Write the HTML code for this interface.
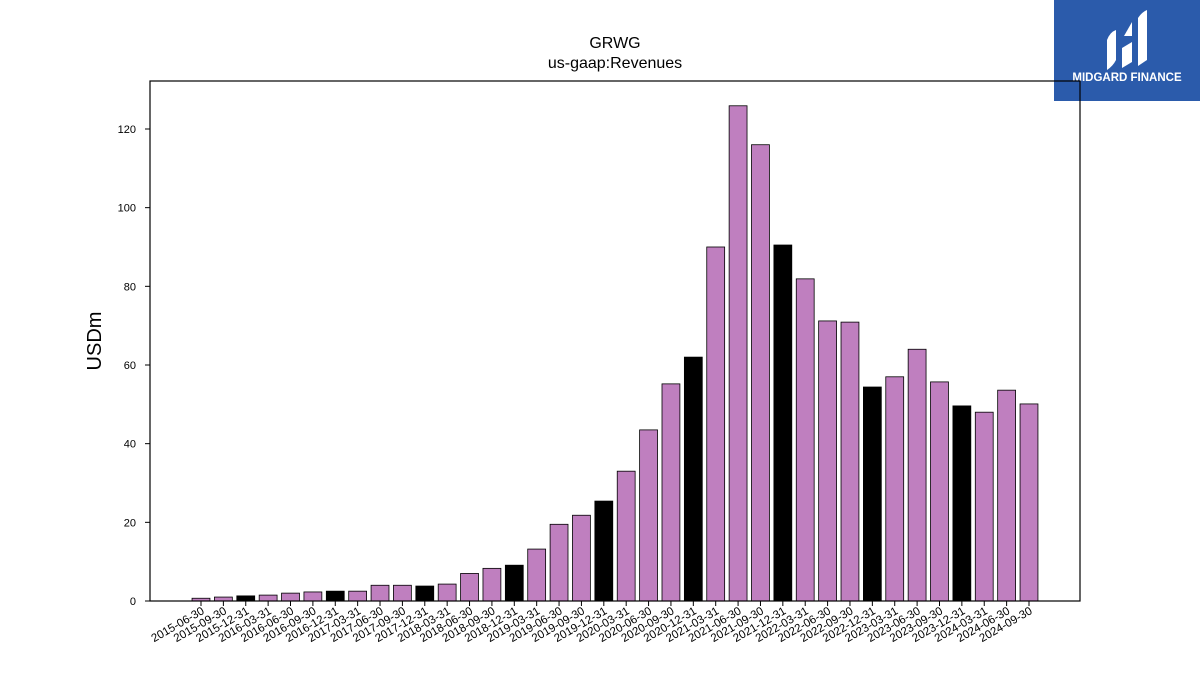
<!DOCTYPE html>
<html><head><meta charset="utf-8"><style>
body{margin:0;background:#fff;font-family:"Liberation Sans","DejaVu Sans",sans-serif}
svg{display:block}
</style></head><body>
<svg id="chart" width="1200" height="675">
<text x="615" y="48" text-anchor="middle" font-size="16">GRWG</text>
<text x="615" y="68" text-anchor="middle" font-size="16">us-gaap:Revenues</text>
<text transform="translate(101,341) rotate(-90)" text-anchor="middle" font-size="20">USDm</text>
<g id="logo">
<rect x="1054" y="0" width="146" height="101" fill="#2b5bab"/>
<path d="M1107 70 L1107 40 Q1110 32 1116 30 L1116 60 Q1113 66 1107 70Z" fill="#fff"/>
<path d="M1122 68 L1122 48 L1132 42 L1132 62Z" fill="#fff"/>
<path d="M1124 36 L1132 22 L1132 36Z" fill="#fff"/>
<path d="M1138 66 L1138 18 Q1142 12 1147 10 L1147 60Z" fill="#fff"/>
<text x="1127" y="81" text-anchor="middle" font-size="11.5" font-weight="bold" fill="#fff">MIDGARD FINANCE</text>
</g>
<g id="bars"></g>
<g id="axes"></g>
</svg>
<script>
const categories=["2015-06-30","2015-09-30","2015-12-31","2016-03-31","2016-06-30","2016-09-30","2016-12-31","2017-03-31","2017-06-30","2017-09-30","2017-12-31","2018-03-31","2018-06-30","2018-09-30","2018-12-31","2019-03-31","2019-06-30","2019-09-30","2019-12-31","2020-03-31","2020-06-30","2020-09-30","2020-12-31","2021-03-31","2021-06-30","2021-09-30","2021-12-31","2022-03-31","2022-06-30","2022-09-30","2022-12-31","2023-03-31","2023-06-30","2023-09-30","2023-12-31","2024-03-31","2024-06-30","2024-09-30"];
const revenues=[0.7,1.0,1.3,1.5,2.0,2.3,2.5,2.5,4.0,4.0,3.8,4.3,7.0,8.3,9.1,13.2,19.5,21.8,25.4,33.0,43.5,55.2,62.0,90.0,125.9,116.0,90.5,81.9,71.2,70.9,54.4,57.0,64.0,55.7,49.6,48.0,53.6,50.1];
const yTicks=[0,20,40,60,80,100,120];
const NS="http://www.w3.org/2000/svg";
const L=150,R=1080,T=81,B=601;
const yMax=132.2;
const y=v=>B-v/yMax*(B-T);
const step=(1029-201)/(categories.length-1);
const x=i=>201+i*step;
const bw=step*0.8;
function mk(tag,attrs,parent){const e=document.createElementNS(NS,tag);for(const k in attrs)e.setAttribute(k,attrs[k]);parent.appendChild(e);return e;}
const bars=document.getElementById('bars'),axes=document.getElementById('axes');
revenues.forEach((v,i)=>{
 const annual=categories[i].endsWith("12-31");
 const r=mk('rect',{x:x(i)-bw/2,y:y(v),width:bw,height:B-y(v),fill:annual?'#000':'#bf7fbf',stroke:'#000','stroke-width':0.8},bars);
 
 
});
const frame=mk('rect',{x:L,y:T,width:R-L,height:B-T,fill:'none',stroke:'#000','stroke-width':1.2},axes);


yTicks.forEach(t=>{
 mk('line',{x1:L-5,x2:L,y1:y(t),y2:y(t),stroke:'#000'},axes);
 const tx=mk('text',{x:L-14,y:y(t)+4,'text-anchor':'end','font-size':11},axes);
 tx.textContent=t;
 
 
});
categories.forEach((c,i)=>{
 mk('line',{x1:x(i),x2:x(i),y1:B,y2:B+5,stroke:'#000'},axes);
 const tx=mk('text',{transform:`translate(${x(i)+4},${B+12}) rotate(-30)`,'text-anchor':'end','font-size':11.5},axes);
 tx.textContent=c;
 
 
});
</script>
</body></html>
